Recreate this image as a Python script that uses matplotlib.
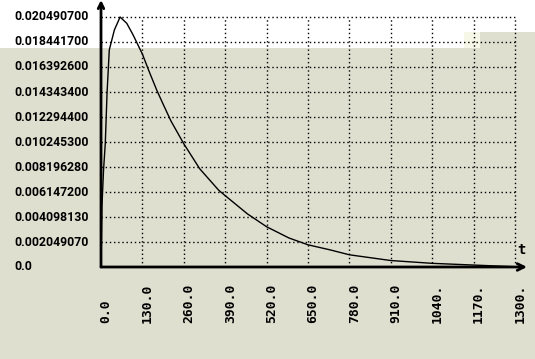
import numpy as np
import matplotlib
matplotlib.use("Agg")
import matplotlib.pyplot as plt
from matplotlib.patches import Rectangle

# values
t = [0, 3, 8, 13.5, 19, 26, 42, 60, 81, 101, 130, 150, 175, 195, 220, 260,
     310, 370, 390, 460, 520, 590, 650, 720, 780, 910, 1040, 1170, 1300]
v = [0, 0.0050, 0.00795, 0.01016, 0.01426, 0.01779, 0.01943, 0.0204907,
     0.01997, 0.01901, 0.01745, 0.01610, 0.01450, 0.01335, 0.01195, 0.01010,
     0.00805, 0.00628, 0.00585, 0.00435, 0.00330, 0.00238, 0.00182, 0.00140,
     0.00100, 0.00053, 0.00030, 0.00016, 0.00002]

xticks = [0, 130, 260, 390, 520, 650, 780, 910, 1040, 1170, 1300]
xlabels = ["0.0", "130.0", "260.0", "390.0", "520.0", "650.0", "780.0",
           "910.0", "1040.", "1170.", "1300."]
yticks = [0.0, 0.00204907, 0.00409813, 0.0061472, 0.00819628, 0.0102453,
          0.0122944, 0.0143434, 0.0163926, 0.0184417, 0.0204907]
ylabels = ["0.0", "0.002049070", "0.004098130", "0.006147200", "0.008196280",
           "0.010245300", "0.012294400", "0.014343400", "0.016392600",
           "0.018441700", "0.020490700"]

W, H = 535, 359
bg = "#dfdfd0"
fig = plt.figure(figsize=(W / 100, H / 100), dpi=100, facecolor=bg)

# white strip at the top of the window
def px_rect(x0, y0, x1, y1, color):
    fig.patches.append(Rectangle((x0 / W, 1 - y1 / H), (x1 - x0) / W, (y1 - y0) / H,
                                 transform=fig.transFigure, color=color, lw=0, zorder=0))

px_rect(0, 0, 535, 32, "white")
px_rect(0, 32, 464, 48, "white")
px_rect(464, 32, 480, 48, "#f6f7e6")

# axes: x 0 at px 101, 1300 at px 515 ; y 0 at px 267, max at px 17
x0px, x1px = 101, 527
y0px = 267
xpp = 1300 / (515 - 101)
ypp = 0.0204907 / (267 - 17)
ax = fig.add_axes([x0px / W, (H - y0px) / H, (x1px - x0px) / W, y0px / H])
ax.set_zorder(2)
ax.set_xlim(0, (x1px - x0px) * xpp)
ax.set_ylim(0, y0px * ypp)
ax.patch.set_alpha(0)
for s in ax.spines.values():
    s.set_visible(False)
ax.set_xticks([])
ax.set_yticks([])

# dotted grid
ax.hlines(yticks[1:], 0, 1300, colors="black", linestyles=(0, (1, 2)), lw=1)
ax.vlines(xticks[1:], 0, yticks[-1], colors="black", linestyles=(0, (1, 2)), lw=1)

ax.plot(t, v, color="black", lw=1)

# axis lines with arrows
ax.annotate("", xy=(0, y0px * ypp), xytext=(0, 0),
            arrowprops=dict(arrowstyle="->", lw=2, color="black",
                            shrinkA=0, shrinkB=0, mutation_scale=10))
ax.annotate("", xy=((x1px - x0px) * xpp, 0), xytext=(0, 0),
            arrowprops=dict(arrowstyle="->", lw=2, color="black",
                            shrinkA=0, shrinkB=0, mutation_scale=12))

yfnt = dict(family="Roboto", weight="bold", color="black")
for yv, lab in zip(yticks, ylabels):
    ypx = y0px - yv / ypp
    fig.text(14 / W, 1 - ypx / H, lab, ha="left", va="center", fontsize=8.8,
             zorder=3, **yfnt)

xfnt = dict(family="DejaVu Sans Mono", weight="bold", color="black")
for xv, lab in zip(xticks, xlabels):
    xpx = x0px + xv / xpp + 5
    fig.text(xpx / W, 1 - 323 / H, lab, rotation=90, ha="center", va="bottom",
             fontsize=9.4, zorder=3, **xfnt)

fig.text(521 / W, 1 - 250 / H, "t", ha="center", va="center", fontsize=10,
         zorder=3, **xfnt)

fig.savefig("out.png", dpi=100, facecolor=bg)
